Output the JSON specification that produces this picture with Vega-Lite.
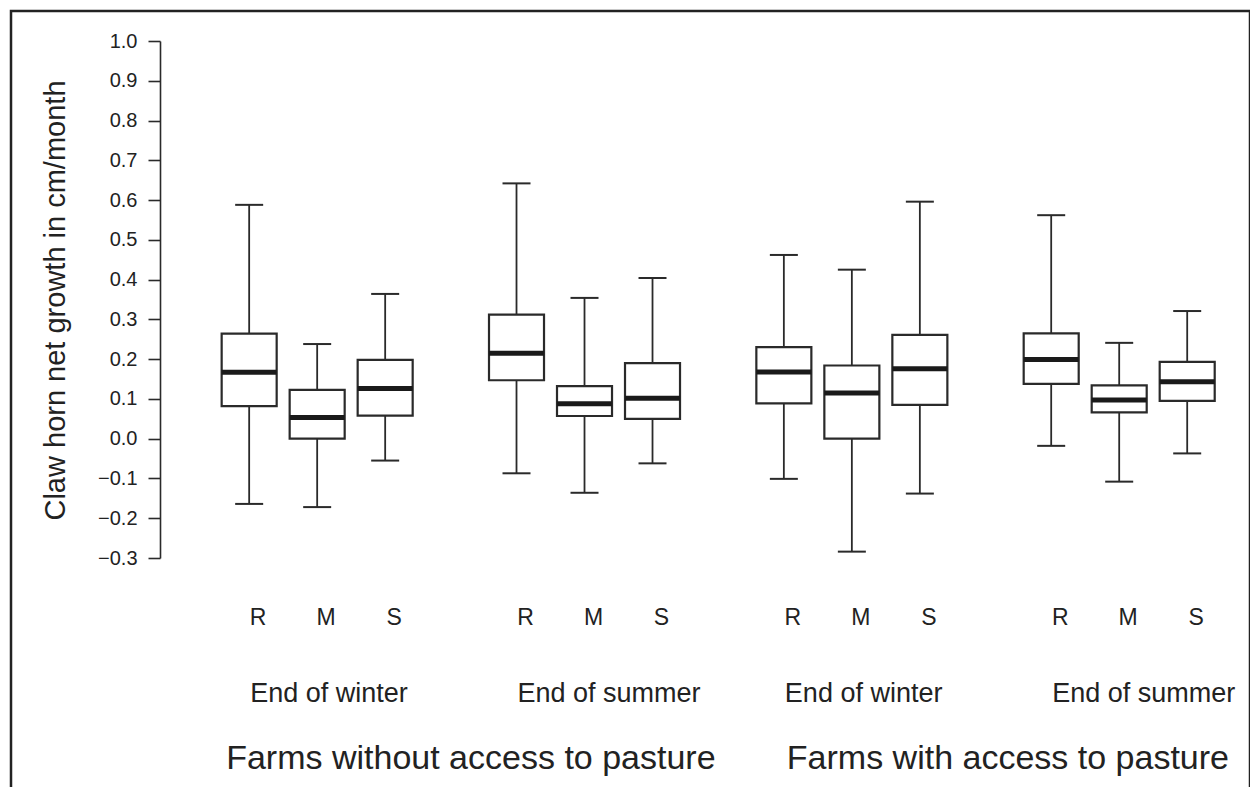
{
  "$schema": "https://vega.github.io/schema/vega-lite/v6.json",
  "width": 1239,
  "height": 779,
  "autosize": {"type": "none"},
  "padding": {"left": 11, "top": 11, "right": 0, "bottom": 0},
  "background": "white",
  "config": {
    "view": {"stroke": "#222", "strokeWidth": 2.5},
    "font": "Liberation Sans",
    "text": {"font": "Liberation Sans", "color": "#222"}
  },
  "datasets": {
    "boxes": [
      {"group": "without|winter", "zone": "R", "min": -0.164, "q1": 0.082, "median": 0.167, "q3": 0.264, "max": 0.588},
      {"group": "without|winter", "zone": "M", "min": -0.172, "q1": 0.0, "median": 0.053, "q3": 0.123, "max": 0.238},
      {"group": "without|winter", "zone": "S", "min": -0.055, "q1": 0.058, "median": 0.126, "q3": 0.198, "max": 0.364},
      {"group": "without|summer", "zone": "R", "min": -0.087, "q1": 0.147, "median": 0.215, "q3": 0.312, "max": 0.642},
      {"group": "without|summer", "zone": "M", "min": -0.136, "q1": 0.057, "median": 0.088, "q3": 0.132, "max": 0.354},
      {"group": "without|summer", "zone": "S", "min": -0.062, "q1": 0.05, "median": 0.102, "q3": 0.19, "max": 0.404},
      {"group": "with|winter", "zone": "R", "min": -0.101, "q1": 0.089, "median": 0.168, "q3": 0.23, "max": 0.462},
      {"group": "with|winter", "zone": "M", "min": -0.284, "q1": 0.0, "median": 0.115, "q3": 0.184, "max": 0.425},
      {"group": "with|winter", "zone": "S", "min": -0.138, "q1": 0.085, "median": 0.176, "q3": 0.261, "max": 0.596},
      {"group": "with|summer", "zone": "R", "min": -0.018, "q1": 0.138, "median": 0.199, "q3": 0.265, "max": 0.562},
      {"group": "with|summer", "zone": "M", "min": -0.108, "q1": 0.066, "median": 0.097, "q3": 0.134, "max": 0.241},
      {"group": "with|summer", "zone": "S", "min": -0.037, "q1": 0.095, "median": 0.143, "q3": 0.193, "max": 0.321}
    ],
    "groups": [
      {"group": "without|winter", "season": "End of winter", "farm": "Farms without access to pasture"},
      {"group": "without|summer", "season": "End of summer", "farm": "Farms without access to pasture"},
      {"group": "with|winter", "season": "End of winter", "farm": "Farms with access to pasture"},
      {"group": "with|summer", "season": "End of summer", "farm": "Farms with access to pasture"}
    ]
  },
  "encoding": {
    "x": {
      "field": "group",
      "type": "nominal",
      "scale": {
        "domain": ["without|winter", "without|summer", "with|winter", "with|summer"],
        "paddingInner": 0.2855,
        "paddingOuter": 0.46,
        "align": 0.8565
      },
      "axis": null
    }
  },
  "layer": [
    {
      "data": {"name": "boxes"},
      "mark": {"type": "rule", "stroke": "#2a2a2a", "strokeWidth": 1.8},
      "encoding": {
        "xOffset": {"field": "zone", "type": "nominal", "scale": {"domain": ["R", "M", "S"], "paddingInner": 0.191, "paddingOuter": 0}},
        "y": {
          "field": "min",
          "type": "quantitative",
          "scale": {"domain": [-0.3, 1.0], "range": [547, 30], "zero": false, "nice": false},
          "axis": {
            "orient": "left",
            "offset": -149,
            "values": [-0.3, -0.2, -0.1, 0, 0.1, 0.2, 0.3, 0.4, 0.5, 0.6, 0.7, 0.8, 0.9, 1.0],
            "format": ".1f",
            "labelExpr": "replace(datum.label, '-', '\u2212')",
            "tickSize": 12,
            "tickWidth": 1.6,
            "tickColor": "#2a2a2a",
            "domainColor": "#2a2a2a",
            "domainWidth": 1.6,
            "labelPadding": 11,
            "labelFontSize": 20,
            "labelFont": "Liberation Sans",
            "labelColor": "#222",
            "grid": false,
            "title": "Claw horn net growth in cm/month",
            "titleFont": "Liberation Sans",
            "titleFontSize": 29,
            "titleFontWeight": "normal",
            "titleColor": "#222",
            "titleAngle": -90,
            "titleAlign": "center",
            "titleBaseline": "alphabetic",
            "titleX": -96,
            "titleY": 289
          }
        },
        "y2": {"field": "max"}
      }
    },
    {
      "data": {"name": "boxes"},
      "mark": {"type": "bar", "fill": "white", "stroke": "#2a2a2a", "strokeWidth": 2.2},
      "encoding": {
        "xOffset": {"field": "zone", "type": "nominal"},
        "y": {"field": "q1", "type": "quantitative"},
        "y2": {"field": "q3"}
      }
    },
    {
      "data": {"name": "boxes"},
      "mark": {"type": "tick", "color": "#1a1a1a", "size": 55, "thickness": 5, "opacity": 1},
      "encoding": {
        "xOffset": {"field": "zone", "type": "nominal"},
        "y": {"field": "median", "type": "quantitative"}
      }
    },
    {
      "data": {"name": "boxes"},
      "mark": {"type": "tick", "color": "#2a2a2a", "size": 28, "thickness": 2, "opacity": 1},
      "encoding": {
        "xOffset": {"field": "zone", "type": "nominal"},
        "y": {"field": "max", "type": "quantitative"}
      }
    },
    {
      "data": {"name": "boxes"},
      "mark": {"type": "tick", "color": "#2a2a2a", "size": 28, "thickness": 2, "opacity": 1},
      "encoding": {
        "xOffset": {"field": "zone", "type": "nominal"},
        "y": {"field": "min", "type": "quantitative"}
      }
    },
    {
      "data": {"name": "boxes"},
      "mark": {"type": "text", "fontSize": 23, "dx": 9, "align": "center", "baseline": "alphabetic"},
      "encoding": {
        "xOffset": {"field": "zone", "type": "nominal"},
        "y": {"datum": -0.4684, "type": "quantitative"},
        "text": {"field": "zone"}
      }
    },
    {
      "data": {"name": "groups"},
      "mark": {"type": "text", "fontSize": 27, "dx": -67, "align": "left", "baseline": "alphabetic"},
      "encoding": {
        "y": {"datum": -0.662, "type": "quantitative"},
        "text": {"field": "season"}
      }
    },
    {
      "data": {"name": "groups"},
      "transform": [{"filter": "datum.group === 'without|winter'"}],
      "mark": {"type": "text", "fontSize": 34, "dx": -91, "align": "left", "baseline": "alphabetic"},
      "encoding": {
        "y": {"datum": -0.8305, "type": "quantitative"},
        "text": {"field": "farm"}
      }
    },
    {
      "data": {"name": "groups"},
      "transform": [{"filter": "datum.group === 'with|winter'"}],
      "mark": {"type": "text", "fontSize": 34, "dx": -65, "align": "left", "baseline": "alphabetic"},
      "encoding": {
        "y": {"datum": -0.8305, "type": "quantitative"},
        "text": {"field": "farm"}
      }
    }
  ]
}
